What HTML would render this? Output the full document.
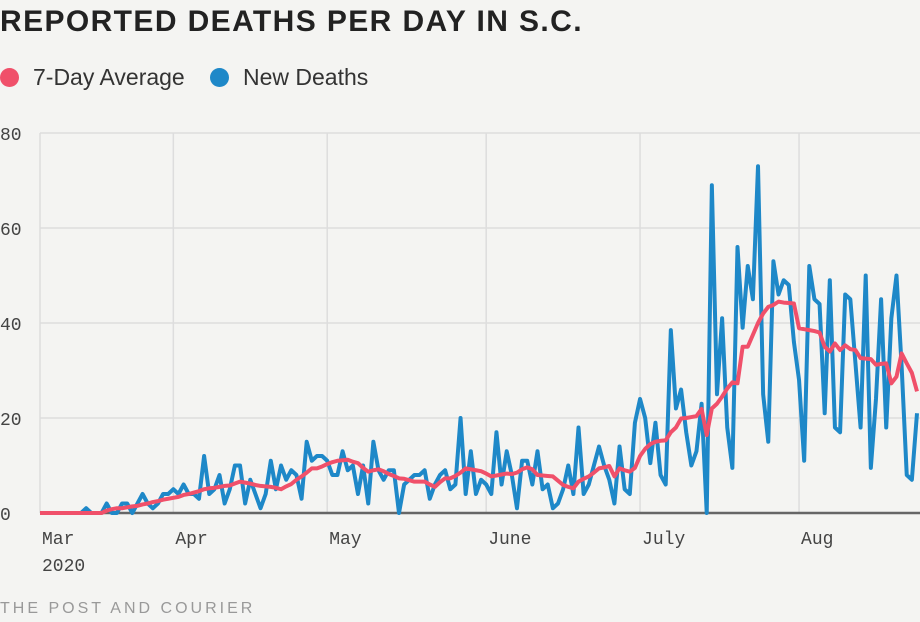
<!DOCTYPE html>
<html><head><meta charset="utf-8"><style>
body{margin:0;background:#f4f4f2;font-family:"Liberation Sans",sans-serif;}
#w{position:relative;width:920px;height:622px;overflow:hidden;background:#f4f4f2}
.t{position:absolute;left:0;top:5px;font-size:30px;font-weight:bold;color:#222;letter-spacing:1.4px}
.lg{position:absolute;top:64px;font-size:23px;color:#333;display:flex;align-items:center}
.dot{width:19px;height:19px;border-radius:50%;margin-right:14px}
.ft{position:absolute;left:0;top:600px;font-size:16px;color:#999;letter-spacing:3px}
svg{position:absolute;left:0;top:0}
</style></head><body><div id="w">
<div class="t">REPORTED DEATHS PER DAY IN S.C.</div>
<div class="lg" style="left:0"><div class="dot" style="background:#f0506a"></div>7-Day Average</div>
<div class="lg" style="left:210px"><div class="dot" style="background:#1e88c8"></div>New Deaths</div>
<svg id="c" width="920" height="622"></svg>
<div class="ft">THE POST AND COURIER</div>
</div>
<script>
const newDeaths=[0,0,0,0,0,0,0,0,0,1,0,0,0,2,0,0,2,2,0,2,4,2,1,2,4,4,
5,4,6,4,4,3,12,4,5,8,2,5,10,10,2,7,4,1,4,11,5,10,7,9,8,3,15,11,12,12,
11,8,8,13,9,10,4,10,2,15,9,7,9,9,0,6,7,8,8,9,3,6,8,9,5,6,20,4,13,4,7,
6,4,17,6,13,8,1,11,11,6,13,5,6,1,2,5,10,4,18,4,6,10,14,10,7,2,14,5,
4,19,24,20,10.5,19,8,6,38.5,22,26,17,10,13,23,0,69,25,41,18,9.5,56,39,52,45,73,25,15,53,46,49,48,36,28,11,52,45,44,21,49,18,17,46,45,31.5,18,50,9.5,24,45,18,41,50,31,8,7,21];
const avg7=[0,0,0,0,0,0,0,0,0,0,0,0,0,0.5,0.8,1,1,1.2,1.4,1.5,1.8,2,2.3,2.5,2.8,3,
3.2,3.4,3.8,4,4.3,4.6,5,5.2,5.3,5.5,5.7,5.8,6.2,6.6,6.4,6.2,5.9,5.7,5.6,5.5,5.3,5,5.6,6.1,7,7.7,8.5,9.4,
9.4,9.8,10.3,10.7,11,11.1,11.2,10.8,10.5,9.5,8.7,9,9.2,8.8,8.2,7.8,7.3,7.2,6.9,6.6,6.6,6.6,6,5.5,6.5,7.3,7.3,7.8,
8.5,9.4,9.2,9,8.8,8.3,7.7,7.9,8.1,8.3,8.2,8.5,9.2,9.6,9.2,8,7.9,7.8,7.7,6.8,5.9,5.5,5.2,6.6,7.2,7.7,8.5,9.4,
9.6,9.9,7.7,9.4,9,8.7,9.5,12,13.5,14.5,15,15.2,15.3,17,18,19.9,20,20.2,20.4,21.9,16.4,22,23,24.5,26.2,27.5,27.3,35,
35,37.5,40,42,43.4,43.8,44.5,44.3,44.2,44.1,38.9,38.7,38.5,38.3,38,35,34,35.7,34.3,35.3,34.5,34.3,32.6,32.5,32.4,31.2,31.4,31.5,27.3,28.7,33.6,31.5,29.5,25.6];
const yTicks=[0,20,40,60,80];
const monthLabels=["Mar","Apr","May","June","July","Aug"];
const monthIdx=[0,26,56,87,117,148];
const svg=document.getElementById('c');const NS='http://www.w3.org/2000/svg';
const X=i=>40+i*(877/171);const Y=v=>513-v*4.75;
function mk(t,a){const e=document.createElementNS(NS,t);for(const k in a)e.setAttribute(k,a[k]);svg.appendChild(e);return e;}
yTicks.forEach(v=>{const l=mk('line',{x1:40,x2:920,y1:Y(v),y2:Y(v),stroke:'#ddd','stroke-width':1.5});


const t=mk('text',{x:0,y:Y(v)+7,'font-size':18,fill:'#444','font-family':'Liberation Mono, monospace'});t.textContent=v;

});
monthIdx.forEach((m,k)=>{const x=k==0?40:X(m);const l=mk('line',{x1:x,x2:x,y1:133,y2:513,stroke:'#ddd','stroke-width':1.5});


const t=mk('text',{x:x+2,y:544,'font-size':18,fill:'#444','font-family':'Liberation Mono, monospace'});t.textContent=monthLabels[k];

});
const yr=mk('text',{x:42,y:571,'font-size':18,fill:'#444','font-family':'Liberation Mono, monospace'});yr.textContent='2020';


const b=mk('line',{x1:40,x2:920,y1:513,y2:513,stroke:'#666','stroke-width':2.5});


const p1=mk('polyline',{points:newDeaths.map((v,i)=>X(i)+','+Y(v)).join(' '),fill:'none',stroke:'#1e88c8','stroke-width':4,'stroke-linejoin':'round'});


const p2=mk('polyline',{points:avg7.map((v,i)=>X(i)+','+Y(v)).join(' '),fill:'none',stroke:'#f0506a','stroke-width':4,'stroke-linejoin':'round'});


</script></body></html>
